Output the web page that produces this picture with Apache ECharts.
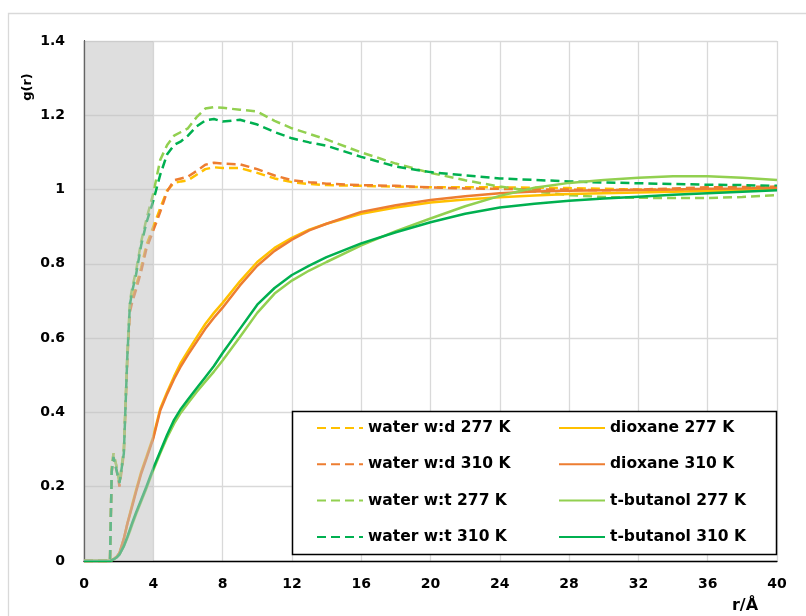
<!DOCTYPE html>
<html><head><meta charset="utf-8">
<script src="https://cdn.jsdelivr.net/npm/echarts/dist/echarts.min.js"></script>
<style>html,body{margin:0;padding:0;background:#fff}#c{width:806px;height:616px}</style>
</head><body><div id="c"></div><script>
// r / Å sample points
const rValues = [0, 1.5, 1.6, 1.7, 1.9, 2.05, 2.3, 2.5, 2.65, 2.8, 3.0, 3.3, 3.6, 4.0, 4.4, 4.8, 5.2, 5.6, 6.0, 6.5, 7.0, 7.5, 8, 9, 10, 11, 12, 13, 14, 16, 18, 20, 22, 24, 26, 28, 30, 32, 34, 36, 38, 40];

const waterWD277 = [0, 0, 0.25, 0.29, 0.25, 0.21, 0.30, 0.55, 0.68, 0.71, 0.74, 0.79, 0.85, 0.90, 0.95, 0.998, 1.018, 1.022, 1.025, 1.04, 1.055, 1.06, 1.058, 1.058, 1.045, 1.03, 1.02, 1.015, 1.012, 1.01, 1.008, 1.006, 1.006, 1.006, 1.005, 1.004, 1.002, 1.0, 1.0, 1.0, 1.0, 1.0];
const waterWD310 = [0, 0, 0.24, 0.28, 0.24, 0.20, 0.29, 0.54, 0.67, 0.70, 0.73, 0.78, 0.84, 0.89, 0.94, 0.995, 1.025, 1.03, 1.035, 1.05, 1.067, 1.072, 1.07, 1.068, 1.055, 1.038, 1.025, 1.02, 1.016, 1.012, 1.01, 1.006, 1.003, 1.002, 1.0, 1.0, 0.998, 1.0, 1.003, 1.006, 1.007, 1.008];
const waterWT277 = [0, 0, 0.25, 0.29, 0.25, 0.21, 0.30, 0.56, 0.70, 0.74, 0.78, 0.86, 0.92, 0.99, 1.08, 1.12, 1.145, 1.155, 1.165, 1.195, 1.218, 1.222, 1.22, 1.215, 1.21, 1.185, 1.165, 1.15, 1.135, 1.10, 1.07, 1.045, 1.025, 1.008, 0.995, 0.985, 0.98, 0.978, 0.977, 0.977, 0.98, 0.985];
const waterWT310 = [0, 0, 0.24, 0.28, 0.24, 0.21, 0.29, 0.55, 0.69, 0.73, 0.77, 0.85, 0.91, 0.97, 1.04, 1.095, 1.12, 1.13, 1.145, 1.17, 1.186, 1.19, 1.183, 1.188, 1.175, 1.155, 1.138, 1.127, 1.118, 1.088, 1.062, 1.047, 1.038, 1.03, 1.026, 1.022, 1.019, 1.017, 1.015, 1.013, 1.012, 1.01];
const dioxane277 = [0, 0, 0.002, 0.005, 0.012, 0.022, 0.06, 0.10, 0.128, 0.155, 0.19, 0.24, 0.28, 0.335, 0.41, 0.455, 0.497, 0.535, 0.565, 0.602, 0.638, 0.668, 0.695, 0.753, 0.805, 0.843, 0.87, 0.892, 0.908, 0.935, 0.952, 0.965, 0.973, 0.979, 0.984, 0.988, 0.99, 0.992, 0.994, 0.996, 0.998, 1.0];
const dioxane310 = [0, 0, 0.002, 0.005, 0.012, 0.022, 0.06, 0.10, 0.125, 0.15, 0.185, 0.235, 0.275, 0.33, 0.405, 0.45, 0.49, 0.525, 0.555, 0.59, 0.625, 0.655, 0.682, 0.742, 0.795, 0.835, 0.865, 0.89, 0.908, 0.94, 0.958, 0.972, 0.982, 0.99, 0.995, 0.997, 0.998, 0.999, 1.0, 1.002, 1.003, 1.005];
const tbutanol277 = [0, 0, 0.002, 0.004, 0.01, 0.018, 0.04, 0.062, 0.08, 0.10, 0.125, 0.16, 0.195, 0.245, 0.29, 0.333, 0.37, 0.40, 0.425, 0.455, 0.483, 0.51, 0.54, 0.603, 0.668, 0.72, 0.755, 0.782, 0.805, 0.85, 0.888, 0.922, 0.955, 0.983, 1.005, 1.018, 1.026, 1.032, 1.036, 1.036, 1.032, 1.026];
const tbutanol310 = [0, 0, 0.002, 0.004, 0.01, 0.018, 0.04, 0.065, 0.085, 0.105, 0.13, 0.165, 0.2, 0.25, 0.295, 0.34, 0.38, 0.41, 0.435, 0.465, 0.495, 0.525, 0.56, 0.625, 0.69, 0.735, 0.77, 0.795, 0.818, 0.855, 0.885, 0.912, 0.935, 0.952, 0.962, 0.97, 0.976, 0.981, 0.986, 0.99, 0.994, 0.998];

const seriesNames = ['water w:d 277 K', 'water w:d 310 K', 'water w:t 277 K', 'water w:t 310 K',
                     'dioxane 277 K', 'dioxane 310 K', 't-butanol 277 K', 't-butanol 310 K'];
const shadeRange = [0, 4];
const xTicks = { min: 0, max: 40, step: 4 };
const yTicks = { min: 0, max: 1.4, step: 0.2 };

const FONT = 'DejaVu Sans';
const COLORS = ['#FFC000', '#ED7D31', '#92D050', '#00B050', '#FFC000', '#ED7D31', '#92D050', '#00B050'];
const values = [waterWD277, waterWD310, waterWT277, waterWT310, dioxane277, dioxane310, tbutanol277, tbutanol310];

function pairs(ys) { return rValues.map((r, i) => [r, ys[i]]); }

const series = values.map((ys, i) => ({
  type: 'line',
  name: seriesNames[i],
  data: pairs(ys),
  symbol: 'none',
  showSymbol: false,
  z: 2,
  color: COLORS[i],
  lineStyle: { color: COLORS[i], width: 2.5, type: i < 4 ? [9, 5] : 'solid' },
  emphasis: { disabled: true }
}));
// translucent grey band over 0–4 Å, drawn on top of the curves
series.push({
  type: 'custom', name: '_shade', silent: true, z: 10,
  data: [shadeRange],
  renderItem: function (params, api) {
    const p0 = api.coord([api.value(0), yTicks.max]);
    const p1 = api.coord([api.value(1), yTicks.min]);
    return { type: 'rect', shape: { x: p0[0], y: p0[1], width: p1[0] - p0[0], height: p1[1] - p0[1] },
      style: { fill: 'rgba(191,191,191,0.52)' } };
  }
});

const legendText = { fontFamily: FONT, fontWeight: 'bold', fontSize: 15.5, color: '#000', lineHeight: 16 };
const legendBase = { orient: 'vertical', top: 420, itemWidth: 46, itemHeight: 16, itemGap: 20.3,
  padding: 0, selectedMode: false, z: 60, textStyle: legendText, itemStyle: { opacity: 0 } };

const chart = echarts.init(document.getElementById('c'));
chart.setOption({
  animation: false,
  grid: { left: 84, right: 29, top: 41, bottom: 55, outerBoundsMode: 'none' },
  xAxis: {
    type: 'value', min: xTicks.min, max: xTicks.max, interval: xTicks.step,
    axisLine: { show: true, onZero: false, lineStyle: { color: '#000', width: 1.3 } },
    axisTick: { show: false },
    splitLine: { show: true, lineStyle: { color: '#d9d9d9', width: 1.3 } },
    axisLabel: { color: '#000', fontFamily: FONT, fontWeight: 'bold', fontSize: 14, margin: 16 }
  },
  yAxis: {
    type: 'value', min: yTicks.min, max: yTicks.max, interval: yTicks.step,
    axisLine: { show: true, lineStyle: { color: '#000', width: 1.3 } },
    axisTick: { show: false },
    splitLine: { show: true, lineStyle: { color: '#d9d9d9', width: 1.3 } },
    axisLabel: { color: '#000', fontFamily: FONT, fontWeight: 'bold', fontSize: 14, margin: 19,
      formatter: v => String(parseFloat(v.toFixed(1))) }
  },
  legend: [
    Object.assign({}, legendBase, { left: 316, data: seriesNames.slice(0, 4) }),
    Object.assign({}, legendBase, { left: 558, data: seriesNames.slice(4) })
  ],
  graphic: [
    { type: 'rect', silent: true, z: -10, shape: { x: 8.5, y: 13.5, width: 900, height: 700 },
      style: { fill: null, stroke: '#d9d9d9', lineWidth: 1.3 } },
    { type: 'rect', silent: true, z: 50, shape: { x: 292.5, y: 411.5, width: 484, height: 143 },
      style: { fill: '#fff', stroke: '#000', lineWidth: 1.5 } },
    { type: 'text', silent: true, z: 50, x: 28, y: 87, rotation: Math.PI / 2,
      style: { text: 'g(r)', fontFamily: FONT, fontWeight: 'bold', fontSize: 13, fill: '#000',
        align: 'center', verticalAlign: 'middle' } },
    { type: 'text', silent: true, z: 50, x: 745, y: 606,
      style: { text: 'r/Å', fontFamily: FONT, fontWeight: 'bold', fontSize: 16, fill: '#000',
        align: 'center', verticalAlign: 'middle' } }
  ],
  series: series
});
</script></body></html>
